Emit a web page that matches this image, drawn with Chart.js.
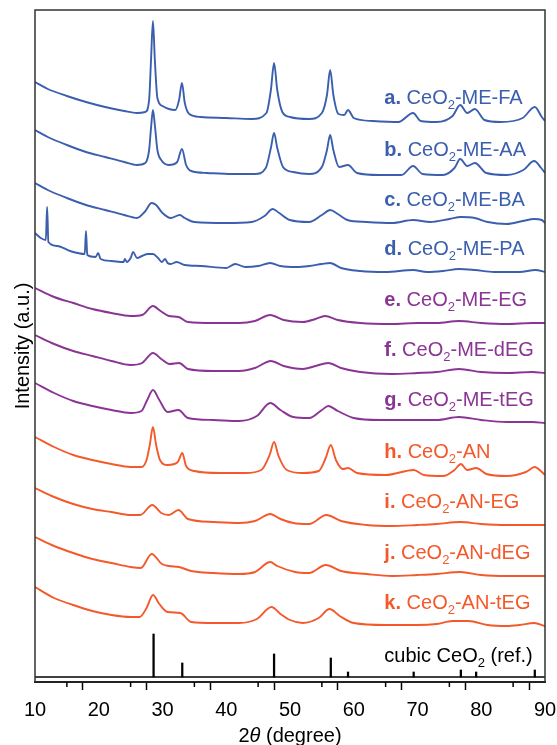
<!DOCTYPE html>
<html lang="en">
<head>
<meta charset="UTF-8">
<title>XRD patterns of CeO2 samples</title>
<script src="https://cdn.jsdelivr.net/npm/chart.js@4.4.0/dist/chart.umd.min.js"></script>
<style>
  html, body { margin: 0; padding: 0; background: #fff; }
  #wrap { width: 557px; height: 745px; }
</style>
</head>
<body>
<div id="wrap"><canvas id="xrd" width="557" height="745"></canvas></div>
<script>
// 2theta (degree) / intensity (a.u., stacked) pairs
const patternA = [[10,600],[12,593],[15,586],[18,580],[21,575],[24,571],[26,569],[27.3,570],[27.9,582],[28.2,622],[28.5,661],[28.8,622],[29.2,584],[30,576],[31,573],[32,572],[32.6,582],[33.05,599],[33.5,579],[34.2,568],[36,565],[40,564],[44,563],[46.3,569],[47,592],[47.5,619],[48,592],[48.8,570],[50,565],[53,563],[55,569],[55.8,587],[56.3,612],[56.8,587],[57.6,568],[58.5,567],[59.1,572],[60,564],[63,561],[67,560],[69.3,569],[70.5,561],[73,560],[75.5,566],[76.7,577],[77.8,569],[79,573],[80.5,562],[83,560],[86.5,564],[88.4,575],[89.5,565],[90,561]];
const patternB = [[10,552],[12,545],[15,537],[18,530],[21,525],[24,520],[26,517],[27.3,519],[27.9,532],[28.2,554],[28.5,572],[28.8,557],[29.2,532],[29.8,522],[31,517],[32.3,520],[33.05,533],[33.7,517],[34.5,511],[37,509],[41,508],[44.5,508],[46.2,514],[47,534],[47.5,549],[48,534],[48.9,515],[50.5,510],[53,508],[55,515],[55.8,532],[56.3,547],[56.8,532],[57.7,515],[59.1,517],[60.5,509],[64,507],[67.5,507],[69.3,516],[70.8,508],[74,507],[75.8,514],[76.7,523],[77.8,516],[79,519],[80.8,509],[84,507],[86.6,512],[88.3,521],[89.4,514],[90,509]];
const patternC = [[10,499],[12,492],[15,484],[18,477],[21,472],[24,467],[26,464],[27.2,470],[28.3,479],[29,477],[30,469],[31.3,464],[32.7,467],[33.5,464],[35,460],[40,459],[44,460],[46,466],[47.3,473],[48.3,469],[50,462],[53,460],[55,467],[56.3,472],[57.5,468],[59,462],[62,460],[66,459],[69.3,462],[72,460],[75,463],[76.8,465],[79,464],[81,460],[84,458],[86.5,461],[88.3,463],[89.5,462],[90,459]];
const patternD = [[10,449],[10.9,444],[11.7,442],[11.9,475],[12.1,440],[13.5,436],[15.5,431],[17.8,428],[18.0,451],[18.2,427],[19.5,425],[19.9,429],[20.3,423],[22,421],[23.9,420],[24.1,423],[24.4,420],[25.0,424],[25.4,430],[26.0,424],[26.8,426],[27.7,428],[28.5,428],[29.3,424],[29.9,420],[30.4,423],[30.8,419],[31.3,418],[32.2,420],[33.5,417],[36,416],[40,414],[41.4,418],[43,415],[45,416],[46.9,419],[48.5,416],[51,415],[53,416],[55,418],[56.3,419],[58,414],[61,411],[65,410],[69.3,412],[71.5,410],[74,411],[76.5,413],[79,412],[82,410],[86,410],[88.5,412],[90,410]];
const patternE = [[10,394],[13,385],[16,379],[19,373],[22,369],[25,366],[26.8,367],[28.5,376],[29.7,371],[31,366],[32.5,365],[34,360],[38,359],[42,359],[44.5,361],[46.9,367],[49,362],[52,360],[54,363],[55.5,366],[57.5,362],[61,359],[66,358],[70,359],[73,359],[76.5,361],[80,359],[84,358],[88,359],[90,359]];
const patternF = [[10,347],[13,338],[16,331],[19,326],[22,321],[25,317],[26.8,319],[28.5,329],[29.8,323],[31.1,318],[32.6,319],[34,313],[38,311],[42,311],[44.5,314],[47,321],[49,316],[52,313],[54,316],[56,319],[58,314],[61,310],[66,308],[70,309],[73,310],[76.5,313],[80,310],[84,309],[88,310],[90,309]];
const patternG = [[10,299],[13,289],[16,281],[19,276],[22,272],[25,269],[26.7,271],[27.6,282],[28.5,292],[29.5,282],[30.8,270],[32.5,272],[34,264],[38,262],[42,261],[44.8,266],[46.9,279],[48.5,272],[50.5,265],[53,264],[55,272],[56,276],[57.5,271],[60,264],[64,262],[69,262],[73,262],[76.5,265],[80,262],[84,260],[88,260],[90,259]];
const patternH = [[10,245],[13,235],[16,227],[19,222],[22,218],[25,215],[26.7,215],[27.5,222],[28.0,237],[28.5,255],[29.0,237],[29.6,222],[30.8,217],[32.4,220],[33.1,229],[33.7,216],[35,211],[39,209],[43,209],[45.5,212],[46.8,227],[47.5,240],[48.2,226],[49.5,212],[52,209],[54.5,211],[55.6,224],[56.4,237],[57.2,222],[58.3,213],[59.1,214],[60.5,209],[65,207],[69.4,212],[71,207],[74,206],[75.8,212],[76.8,218],[77.8,212],[79.2,214],[80.8,208],[84,206],[87,210],[88.4,215],[89.5,210],[90,207]];
const patternI = [[10,194],[13,185],[16,178],[19,173],[22,170],[25,167],[26.5,167],[28.4,177],[29.8,169],[31,167],[32.5,172],[34,163],[38,160],[42,159],[44.5,161],[46.9,168],[48.5,163],[50.5,159],[53,158],[55.7,167],[58,161],[62,157],[66,156],[70,157],[73,158],[76.7,160],[80,158],[84,157],[88,157],[90,157]];
const patternJ = [[10,145],[13,136],[16,129],[19,123],[22,119],[25,115],[26.6,114],[28.3,128],[29.9,118],[31,116],[32.6,115],[34.5,111],[38,109],[42,108],[44.5,110],[46.9,120],[48,116],[50.8,110],[53,109],[55.6,117],[58,111],[62,108],[66,106],[70,107],[73,108],[76.7,110],[80,107],[84,106],[88,106],[90,106]];
const patternK = [[10,95],[13,84],[16,77],[19,71],[22,67],[25,65],[26.4,65],[27.5,74],[28.5,87],[29.5,78],[30.8,70],[32.8,69],[34.5,60],[38,59],[42,59],[44.8,63],[47.1,75],[48.5,68],[50,62],[52,59],[54.5,64],[56.2,73],[57.8,66],[60,59],[65,57],[70,57],[73,58],[75.5,61],[78,61],[81,57],[84,56],[86,57],[88.3,59],[90,56]];

// reference pattern: cubic CeO2 line positions and relative heights
const refPositions = [28.6, 33.1, 47.5, 56.4, 59.1, 69.4, 76.8, 79.2, 88.4];
const refHeights   = [43, 14, 23, 19, 5, 5, 7, 5, 7];
const refBase = 5;

const sampleLetters = ['a.', 'b.', 'c.', 'd.', 'e.', 'f.', 'g.', 'h.', 'i.', 'j.', 'k.'];
const sampleNames = ['CeO2-ME-FA', 'CeO2-ME-AA', 'CeO2-ME-BA', 'CeO2-ME-PA', 'CeO2-ME-EG', 'CeO2-ME-dEG',
                     'CeO2-ME-tEG', 'CeO2-AN', 'CeO2-AN-EG', 'CeO2-AN-dEG', 'CeO2-AN-tEG'];
const refName = 'cubic CeO2 (ref.)';

const BLUE = '#3b5fae', PURPLE = '#8a3494', ORANGE = '#f4592b';
const patterns = [patternA, patternB, patternC, patternD, patternE, patternF, patternG, patternH, patternI, patternJ, patternK];
const colors = [BLUE, BLUE, BLUE, BLUE, PURPLE, PURPLE, PURPLE, ORANGE, ORANGE, ORANGE, ORANGE];

const FONT = '"Liberation Sans", Arial, Helvetica, sans-serif';
const labelAt = 64.8;   // 2theta where the sample labels start
const labelLift = 24;   // label centre above the tail of its curve

Chart.defaults.font.family = FONT;
Chart.defaults.color = '#000';

const datasets = patterns.map((p, i) => ({
  type: 'line',
  label: sampleLetters[i] + ' ' + sampleNames[i],
  data: p,
  borderColor: colors[i],
  borderWidth: 1.9,
  pointRadius: 0,
  cubicInterpolationMode: 'monotone',
  fill: false
}));

datasets.push({
  type: 'line',
  label: 'ref baseline',
  data: [[10, refBase], [90, refBase]],
  borderColor: '#000',
  borderWidth: 1.5,
  pointRadius: 0
});
datasets.push({
  type: 'bar',
  label: refName,
  data: refPositions.map((p, i) => ({x: p, y: [refBase, refBase + refHeights[i]]})),
  backgroundColor: '#000',
  barThickness: 1.6,
  grouped: false
});

function drawName(ctx, px, py, letter, name, color) {
  ctx.fillStyle = color;
  ctx.textAlign = 'left';
  ctx.textBaseline = 'alphabetic';
  let cx = px;
  if (letter) {
    ctx.font = 'bold 20px ' + FONT;
    ctx.fillText(letter, cx, py);
    cx += ctx.measureText(letter + ' ').width;
  }
  const k = name.indexOf('O2') + 1;
  ctx.font = '20px ' + FONT;
  ctx.fillText(name.slice(0, k), cx, py);
  cx += ctx.measureText(name.slice(0, k)).width;
  ctx.font = '13px ' + FONT;
  ctx.fillText('2', cx, py + 5);
  cx += ctx.measureText('2').width;
  ctx.font = '20px ' + FONT;
  ctx.fillText(name.slice(k + 1), cx, py);
}

const xrdDecor = {
  id: 'xrdDecor',
  afterDraw(chart) {
    const {ctx, chartArea: a, scales: {x, y}} = chart;
    ctx.save();
    // frame (left, top, right)
    ctx.strokeStyle = '#333';
    ctx.lineWidth = 1.5;
    ctx.beginPath();
    ctx.moveTo(a.left, a.bottom);
    ctx.lineTo(a.left, a.top);
    ctx.lineTo(a.right, a.top);
    ctx.lineTo(a.right, a.bottom);
    ctx.stroke();
    // minor ticks
    ctx.strokeStyle = '#000';
    ctx.lineWidth = 1.5;
    x.ticks.forEach(t => {
      if (t.value % 10 !== 0) {
        const px = x.getPixelForValue(t.value);
        ctx.beginPath();
        ctx.moveTo(px, a.bottom);
        ctx.lineTo(px, a.bottom + 5);
        ctx.stroke();
      }
    });
    // sample labels
    const lx = x.getPixelForValue(labelAt);
    patterns.forEach((p, i) => {
      const cy = y.getPixelForValue(p[p.length - 1][1] + labelLift);
      drawName(ctx, lx, cy + 7, sampleLetters[i], sampleNames[i], colors[i]);
    });
    drawName(ctx, lx, y.getPixelForValue(refBase + labelLift - 2) + 7, '', refName, '#000');
    // axis titles
    ctx.fillStyle = '#000';
    ctx.textBaseline = 'alphabetic';
    ctx.font = '20px ' + FONT;
    const w1 = ctx.measureText('2').width;
    const w3 = ctx.measureText(' (degree)').width;
    ctx.font = 'italic 20px ' + FONT;
    const w2 = ctx.measureText('\u03B8').width;
    let tx = (a.left + a.right) / 2 - (w1 + w2 + w3) / 2;
    ctx.textAlign = 'left';
    ctx.font = '20px ' + FONT;
    ctx.fillText('2', tx, 742);
    ctx.font = 'italic 20px ' + FONT;
    ctx.fillText('\u03B8', tx + w1, 742);
    ctx.font = '20px ' + FONT;
    ctx.fillText(' (degree)', tx + w1 + w2, 742);
    ctx.translate(29, (a.top + a.bottom) / 2);
    ctx.rotate(-Math.PI / 2);
    ctx.textAlign = 'center';
    ctx.fillText('Intensity (a.u.)', 0, 0);
    ctx.restore();
  }
};

new Chart(document.getElementById('xrd').getContext('2d'), {
  type: 'line',
  data: {datasets},
  options: {
    responsive: false,
    animation: false,
    layout: {padding: {left: 35, right: 12, top: 10, bottom: 0}},
    plugins: {legend: {display: false}, tooltip: {enabled: false}},
    scales: {
      x: {
        type: 'linear',
        min: 10,
        max: 90,
        offset: false,
        afterFit(scale) {
          scale.height = 63;
          scale.paddingLeft = 0;
          scale.paddingRight = 0;
        },
        border: {display: true, color: '#222', width: 2},
        grid: {
          display: true,
          drawOnChartArea: false,
          drawTicks: true,
          tickLength: 8,
          tickWidth: 1.5,
          tickColor: c => (c.tick && c.tick.value % 10 === 0) ? '#000' : 'rgba(0,0,0,0)'
        },
        ticks: {
          stepSize: 5,
          padding: 8,
          maxRotation: 0,
          autoSkip: false,
          font: {size: 20},
          color: '#000',
          callback: v => (v % 10 === 0 ? v : '')
        }
      },
      y: {
        type: 'linear',
        display: false,
        min: 0,
        max: 672
      }
    }
  },
  plugins: [xrdDecor]
});
</script>
</body>
</html>
